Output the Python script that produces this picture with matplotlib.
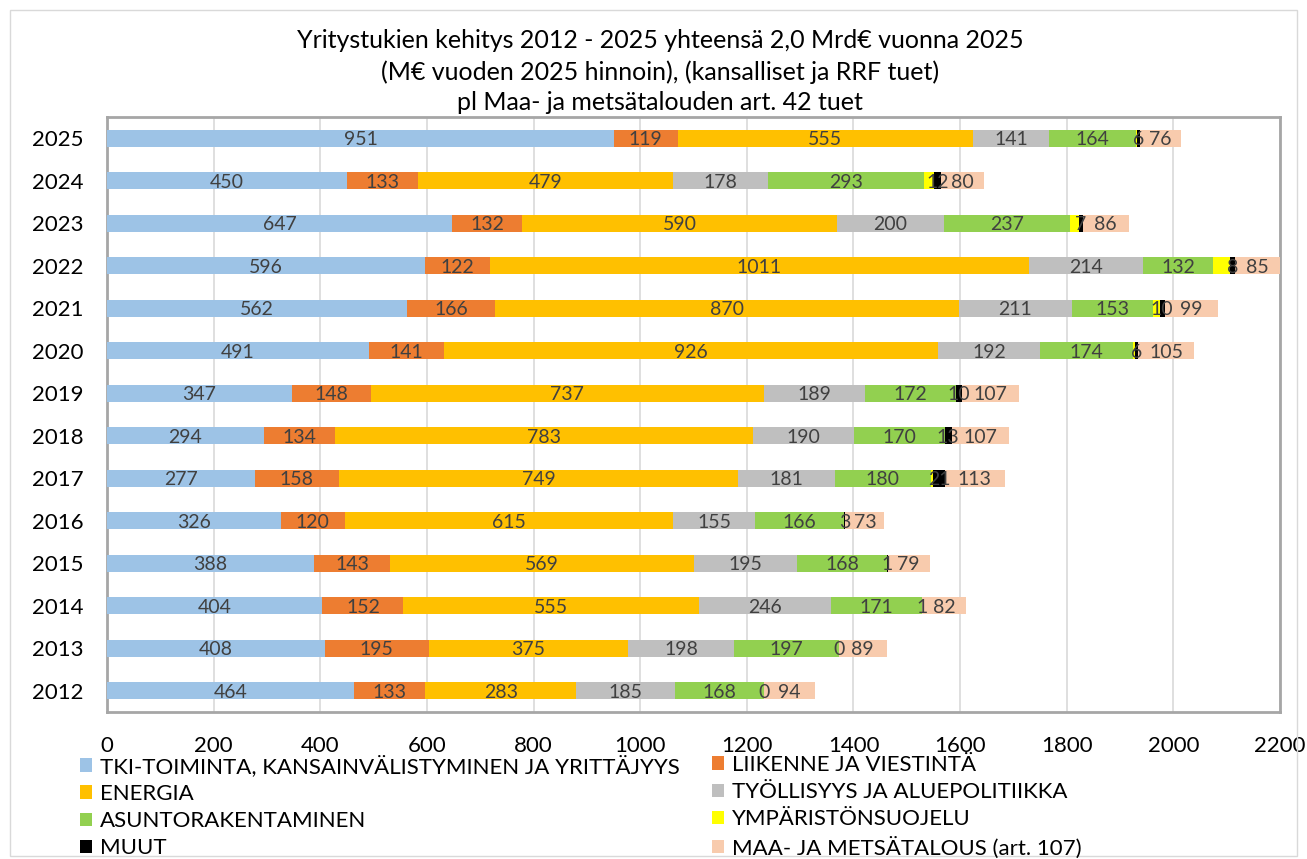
import matplotlib
matplotlib.use("Agg")
import matplotlib.pyplot as plt
from matplotlib.patches import Patch, Rectangle
import numpy as np

plt.rcParams['font.family'] = ['Lato', 'DejaVu Sans']

# vuodet ylhäältä alas
years = ['2025', '2024', '2023', '2022', '2021', '2020', '2019', '2018',
         '2017', '2016', '2015', '2014', '2013', '2012']

tki = [951, 450, 647, 596, 562, 491, 347, 294, 277, 326, 388, 404, 408, 464]
liikenne = [119, 133, 132, 122, 166, 141, 148, 134, 158, 120, 143, 152, 195, 133]
energia = [555, 479, 590, 1011, 870, 926, 737, 783, 749, 615, 569, 555, 375, 283]
tyollisyys = [141, 178, 200, 214, 211, 192, 189, 190, 181, 155, 195, 246, 198, 185]
asunto = [164, 293, 237, 132, 153, 174, 172, 170, 180, 166, 168, 171, 197, 168]
ymparisto = [2, 19, 17, 32, 12, 4, 0, 0, 5, 0, 0, 0, 0, 0]
muut = [6, 12, 7, 8, 10, 6, 10, 13, 21, 3, 1, 1, 0, 0]
maatalous = [76, 80, 86, 85, 99, 105, 107, 107, 113, 73, 79, 82, 89, 94]

series_names = ['TKI-TOIMINTA, KANSAINVÄLISTYMINEN JA YRITTÄJYYS',
                'LIIKENNE JA VIESTINTÄ',
                'ENERGIA',
                'TYÖLLISYYS JA ALUEPOLITIIKKA',
                'ASUNTORAKENTAMINEN',
                'YMPÄRISTÖNSUOJELU',
                'MUUT',
                'MAA- JA METSÄTALOUS (art. 107)']
colors = ['#9DC3E6', '#ED7D31', '#FFC000', '#BFBFBF', '#92D050', '#FFFF00', '#000000', '#F8CBAD']
series = [tki, liikenne, energia, tyollisyys, asunto, ymparisto, muut, maatalous]
show_labels = [True, True, True, True, True, False, True, True]

fig = plt.figure(figsize=(13.07, 8.59), dpi=100)
ax = fig.add_axes([107/1307, 1 - 712/859, (1280 - 107)/1307, (712 - 117)/859])

# ulkoreunus
fig.patches.append(Rectangle((10/1307, 3/859), 1287/1307, 846/859, transform=fig.transFigure,
                             fill=False, edgecolor='#d9d9d9', linewidth=1))

y = np.arange(len(years))
left = np.zeros(len(years))
for vals, name, col, lab in zip(series, series_names, colors, show_labels):
    vals = np.array(vals, dtype=float)
    bars = ax.barh(y, vals, left=left, height=0.4, color=col, label=name, zorder=3)
    if lab:
        for b, v in zip(bars, vals):
            ax.text(b.get_x() + b.get_width() / 2, b.get_y() + b.get_height() / 2 + 0.03,
                    '%d' % v, ha='center', va='center', fontsize=14, color='#404040', zorder=4)
    left += vals

ax.set_xlim(0, 2200)
ax.set_ylim(13.5, -0.5)
ax.set_xticks(np.arange(0, 2201, 200))
ax.set_yticks(y)
ax.set_yticklabels(years, fontsize=16)
ax.tick_params(axis='x', labelsize=16, length=0, pad=17)
ax.tick_params(axis='y', length=0, pad=17)
ax.grid(axis='x', color='#d9d9d9', linewidth=1.2, zorder=0)
for s in ax.spines.values():
    s.set_color('#a6a6a6')
    s.set_linewidth(2)

fig.text(0.505, 1 - 41/859, 'Yritystukien kehitys 2012 - 2025 yhteensä 2,0 Mrd€ vuonna 2025',
         ha='center', va='center', fontsize=18)
fig.text(0.505, 1 - 72/859, '(M€ vuoden 2025 hinnoin), (kansalliset ja RRF tuet)',
         ha='center', va='center', fontsize=18)
fig.text(0.505, 1 - 102/859, 'pl Maa- ja metsätalouden art. 42 tuet',
         ha='center', va='center', fontsize=18)

h = [Patch(facecolor=c) for c in colors]
order1 = [0, 2, 4, 6]
order2 = [1, 3, 5, 7]
for order, xpos in ((order1, 80/1307), (order2, 712/1307)):
    fig.legend([h[i] for i in order], [series_names[i] for i in order],
               loc='upper left', bbox_to_anchor=(xpos, 1 - 755/859), ncol=1,
               frameon=False, fontsize=16, handlelength=0.55, handleheight=0.55,
               handletextpad=0.35, labelspacing=0.32, borderpad=0, borderaxespad=0)

fig.savefig('out.png', dpi=100)
